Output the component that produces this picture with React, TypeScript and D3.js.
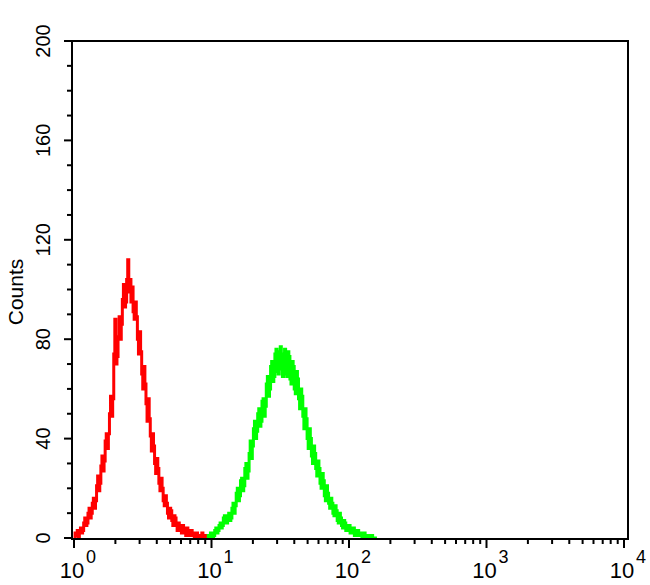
import React from "react";
import * as d3 from "d3";

// Histogram channels: 128 bins per decade on a 4-decade log axis.
const binsPerDecade = 128;
const redStart = 0;
const redCounts = [
  0, 2, 1, 3, 0, 2, 4, 2, 3, 6, 8, 5, 6, 10, 12, 8, 10, 14, 16, 12,
  15, 21, 25, 19, 22, 29, 33, 27, 31, 39, 42, 36, 42, 50, 57, 49, 56, 74, 88, 70,
  73, 81, 89, 80, 86, 96, 102, 93, 95, 104, 112, 99, 104, 95, 101, 91, 88, 95, 89, 80,
  74, 83, 75, 66, 60, 69, 62, 54, 47, 56, 48, 41, 35, 42, 37, 30, 26, 32, 28, 22,
  19, 24, 20, 15, 13, 17, 14, 10, 8, 12, 11, 7, 5, 9, 8, 5, 3, 6, 5, 3,
  2, 5, 4, 2, 1, 4, 3, 1, 1, 3, 2, 1, 0, 2, 2, 0, 1, 1, 0, 2,
  0, 1, 1, 0, 0, 1, 0, 0,
];
const greenStart = 124;
const greenCounts = [
  0, 1, 0, 2, 2, 0, 1, 3, 4, 2, 3, 5, 6, 4, 5, 8, 9, 6, 6, 9,
  10, 7, 8, 12, 14, 10, 13, 18, 20, 15, 17, 23, 24, 19, 21, 28, 30, 24, 27, 34,
  39, 32, 37, 44, 47, 40, 43, 50, 52, 45, 47, 55, 56, 49, 53, 62, 65, 57, 60, 69,
  71, 63, 65, 74, 76, 67, 66, 75, 77, 68, 65, 74, 76, 66, 65, 75, 73, 64, 62, 71,
  69, 60, 58, 67, 64, 56, 52, 60, 57, 49, 44, 52, 48, 40, 36, 44, 40, 33, 30, 37,
  34, 28, 25, 31, 28, 22, 20, 26, 23, 17, 15, 21, 18, 14, 12, 16, 14, 10, 9, 13,
  11, 7, 6, 10, 8, 5, 4, 7, 6, 3, 3, 5, 5, 2, 2, 4, 4, 1, 1, 3,
  3, 1, 1, 2, 0, 2, 2, 0, 0, 1, 1, 0, 0, 1, 0, 0, 0, 0,
];

const yTicks = [0, 40, 80, 120, 160, 200];
const yMinorTicks = d3.range(0, 201, 10);
const xDecades = [0, 1, 2, 3, 4];

const W = 650;
const H = 585;

export default function App() {
  const x = d3.scaleLog().domain([1, 10000]).range([74, 624]);
  const y = d3.scaleLinear().domain([0, 200]).range([538, 41]);

  const toPoints = (start: number, counts: number[]) => {
    const pts: [number, number][] = counts.map((c, i) => [Math.pow(10, (start + i) / binsPerDecade), c]);
    pts.push([Math.pow(10, (start + counts.length) / binsPerDecade), counts[counts.length - 1]]);
    return pts;
  };
  const line = d3
    .line<[number, number]>()
    .x((d) => x(d[0]))
    .y((d) => y(d[1]))
    .curve(d3.curveStepAfter);

  const minorX: number[] = [];
  for (let dcd = 0; dcd < 4; dcd++) {
    for (let m = 2; m <= 9; m++) minorX.push(m * Math.pow(10, dcd));
  }

  const left = 72, right = 628, top = 41, bottom = 539;
  const font = "'Liberation Sans', Arial, sans-serif";

  return (
    <svg width={W} height={H} style={{ position: "absolute", left: 0, top: 0, background: "#fff" }}>
      <rect x={0} y={0} width={W} height={H} fill="#fff" />
      {/* data */}
      <path d={line(toPoints(redStart, redCounts)) || ""} fill="none" stroke="#ff0000" strokeWidth={3} strokeLinejoin="miter" />
      <path d={line(toPoints(greenStart, greenCounts)) || ""} fill="none" stroke="#00ff00" strokeWidth={3} strokeLinejoin="miter" />
      {/* frame */}
      <path d={`M${left},${bottom}V${top}H${right}V${bottom}Z`} fill="none" stroke="#000" strokeWidth={2} />
      {/* y ticks */}
      {yMinorTicks.map((t) => (
        <line key={"ym" + t} x1={left - (t % 40 === 0 ? 8 : 5)} x2={left} y1={y(t)} y2={y(t)} stroke="#000" strokeWidth={2} />
      ))}
      {yTicks.map((t) => (
        <text
          key={"yl" + t}
          transform={`translate(${50},${y(t)}) rotate(-90)`}
          textAnchor="middle"
          fontFamily={font}
          fontSize={20}
          fill="#000"
        >
          {t}
        </text>
      ))}
      <text transform={`translate(23,292) rotate(-90)`} textAnchor="middle" fontFamily={font} fontSize={21} fill="#000">
        Counts
      </text>
      {/* x ticks */}
      {minorX.map((v) => (
        <line key={"xm" + v} x1={x(v)} x2={x(v)} y1={bottom} y2={bottom + 5} stroke="#000" strokeWidth={2} />
      ))}
      {xDecades.map((dcd) => (
        <line key={"xM" + dcd} x1={x(Math.pow(10, dcd))} x2={x(Math.pow(10, dcd))} y1={bottom} y2={bottom + 9} stroke="#000" strokeWidth={2} />
      ))}
      {xDecades.map((dcd) => (
        <g key={"xl" + dcd} transform={`translate(${x(Math.pow(10, dcd))},0)`}>
          <text x={-2} y={578} textAnchor="middle" fontFamily={font} fontSize={22} fill="#000">
            10
          </text>
          <text x={12} y={563} textAnchor="start" fontFamily={font} fontSize={18} fill="#000">
            {dcd}
          </text>
        </g>
      ))}
    </svg>
  );
}
